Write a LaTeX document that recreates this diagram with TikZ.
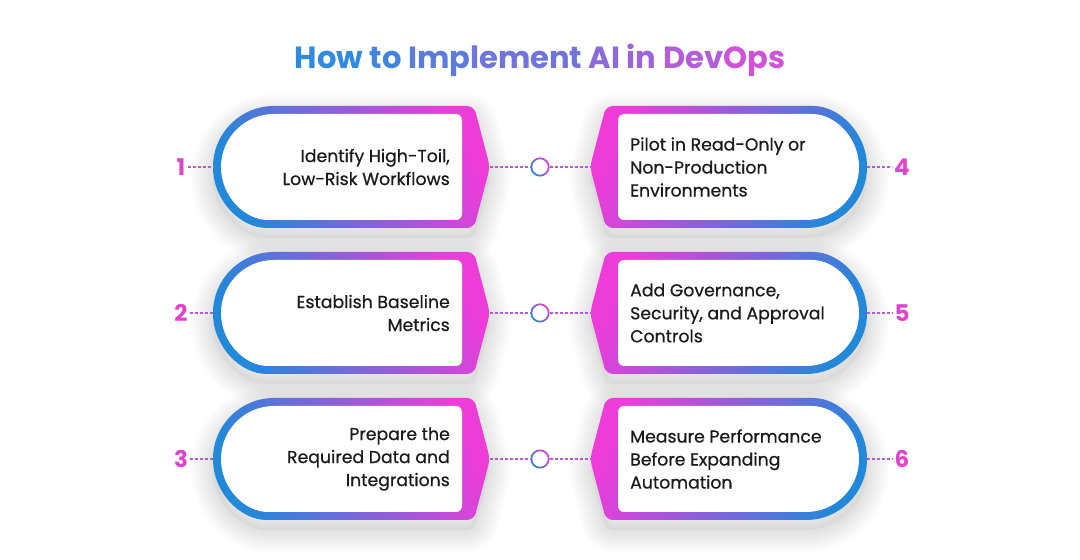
\documentclass[tikz,border=0pt]{standalone}
\usepackage{fontspec}
\setmainfont{Poppins}
\newfontfamily\bodyf[FakeBold=0.55]{Poppins}
\usetikzlibrary{calc}
\definecolor{gblue}{HTML}{2188DA}
\definecolor{gmag}{HTML}{EE3CD9}
\definecolor{tblue}{HTML}{2F8BE0}
\definecolor{tmag}{HTML}{D94ED9}
\definecolor{numc}{HTML}{E044CC}
\definecolor{dashc}{HTML}{B85AD6}
\definecolor{txt}{HTML}{1A1A1A}
\pgfdeclarehorizontalshading{lgrad}{100bp}{color(0bp)=(gblue); color(25bp)=(gblue); color(75bp)=(gmag); color(100bp)=(gmag)}
\newcommand\lout[1]{(274,#1-61) arc[start angle=270,end angle=90,radius=61] [rounded corners=7] -- (474,#1+61) -- (490,#1) -- (474,#1-61) -- cycle}
\newcommand\lin[1]{(274,#1-53) arc[start angle=270,end angle=90,radius=53] [rounded corners=6] -- (462,#1+53) -- (462,#1-53) -- cycle}
\newcommand\rout[1]{(806,#1+61) arc[start angle=90,end angle=-90,radius=61] [rounded corners=7] -- (606,#1-61) -- (590,#1) -- (606,#1+61) -- cycle}
\newcommand\rin[1]{(806,#1+53) arc[start angle=90,end angle=-90,radius=53] [rounded corners=6] -- (618,#1-53) -- (618,#1+53) -- cycle}
\tikzset{
  shadowstroke/.style={draw=black, opacity=0.0065, line join=round},
  lshape/.style={shading=lgrad, shading angle=22},
  rshape/.style={shading=lgrad, shading angle=158},
  inner/.style={fill=white},
  ltext/.style={anchor=east, align=right, inner sep=0pt, text=txt, font=\bodyf\fontsize{17.3}{23}\selectfont},
  rtext/.style={anchor=west, align=left, inner sep=0pt, text=txt, font=\bodyf\fontsize{17.3}{23}\selectfont},
  numlabel/.style={text=numc, font=\bfseries\fontsize{23}{23}\selectfont, inner sep=2pt},
  conn/.style={dashc, line width=1.2pt, dash pattern=on 3pt off 2pt},
  hub/.style={circle, minimum size=19pt, inner sep=0pt, fill=white},
}
\newcommand\shadowof[1]{%
  \fill[black, opacity=0.03, yshift=-10pt] #1;
  \foreach \w in {3,6,...,45}{\draw[shadowstroke, line width=\w pt, yshift=-10pt] #1;}}
\begin{document}
\begin{tikzpicture}[x=1pt,y=1pt]
\useasboundingbox (0,0) rectangle (1080,560);
\fill[white] (0,0) rectangle (1080,560);
% title
\node[font=\bfseries\fontsize{30.6}{32}\selectfont] (title) at (540,500) {%
\textcolor{tblue}{How} \textcolor{tmag!12!tblue}{to} \textcolor{tmag!25!tblue}{Imp}\textcolor{tmag!38!tblue}{lement} \textcolor{tmag!55!tblue}{AI} \textcolor{tmag!65!tblue}{in} \textcolor{tmag!78!tblue}{Dev}\textcolor{tmag!95!tblue}{Ops}};
% rows
\foreach \cy/\ln/\rn/\row in {393/1/4/1, 247/2/5/2, 101/3/6/3}{
  \shadowof{\lout{\cy}}
  \shadowof{\rout{\cy}}
}
\foreach \cy/\ln/\rn/\row in {393/1/4/1, 247/2/5/2, 101/3/6/3}{
  \shade[lshape] \lout{\cy};
  \fill[inner] \lin{\cy};
  \shade[rshape] \rout{\cy};
  \fill[inner] \rin{\cy};
  \coordinate (lL\row) at (213,\cy);
  \coordinate (tipL\row) at (490,\cy);
  \coordinate (tipR\row) at (590,\cy);
  \coordinate (rR\row) at (867,\cy);
  \node[numlabel, anchor=center] (n\ln) at (181,\cy) {\ln};
  \node[numlabel, anchor=center] (n\rn) at (902,\cy) {\rn};
  \node[hub] (c\row) at (540,\cy) {};
  \shade[shading=lgrad, shading angle=30, even odd rule] (c\row.center) circle[radius=9.6] circle[radius=7.8];
  \draw[conn] (n\ln) -- (lL\row);
  \draw[conn] (tipL\row) -- (c\row);
  \draw[conn] (c\row) -- (tipR\row);
  \draw[conn] (rR\row) -- (n\rn);
}
\node[ltext] (t1) at (450,393) {Identify High-Toil,\\Low-Risk Workflows};
\node[ltext] (t2) at (450,247) {Establish Baseline\\Metrics};
\node[ltext] (t3) at (450,101) {Prepare the\\Required Data and\\Integrations};
\node[rtext] (t4) at (630,393) {Pilot in Read-Only or\\Non-Production\\Environments};
\node[rtext] (t5) at (630,247) {Add Governance,\\Security, and Approval\\Controls};
\node[rtext] (t6) at (630,101) {Measure Performance\\Before Expanding\\Automation};
\end{tikzpicture}
\end{document}
